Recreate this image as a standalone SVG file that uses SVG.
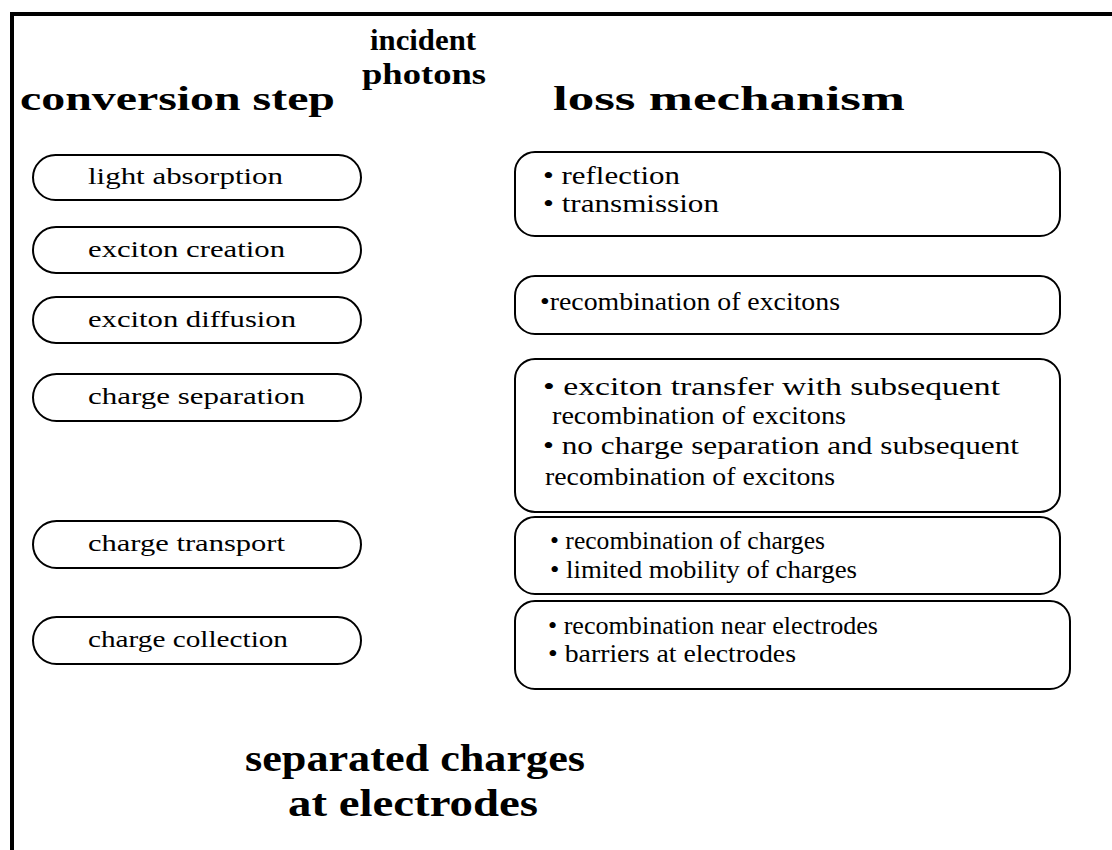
<svg xmlns="http://www.w3.org/2000/svg" width="1112" height="850" viewBox="0 0 1112 850">
<style>
.frame{fill:none;stroke:#000;stroke-width:4}
.pill,.box{fill:#fff;stroke:#000;stroke-width:2}
text{font-family:"Liberation Serif","Times New Roman",serif;fill:#000}
.h{font-weight:bold;font-size:33px}
.ip{font-weight:bold;font-size:30px}
.big{font-weight:bold;font-size:37px}
.t{font-size:23px}
.b{font-size:25px}
</style>
<rect width="1112" height="850" fill="#fff"/>
<path class="frame" d="M12 850 V14 H1112"/>
<g id="headers">
<text class="ip" x="370" y="50" textLength="106" lengthAdjust="spacingAndGlyphs">incident</text>
<text class="ip" x="362" y="84" textLength="124" lengthAdjust="spacingAndGlyphs">photons</text>
<text class="h" x="20" y="110" textLength="315" lengthAdjust="spacingAndGlyphs">conversion step</text>
<text class="h" x="553" y="110" textLength="352" lengthAdjust="spacingAndGlyphs">loss mechanism</text>
</g>
<g id="step1"><rect class="pill" x="33" y="155" width="328" height="45" rx="22.5"/><text class="t" x="88" y="184" textLength="195" lengthAdjust="spacingAndGlyphs">light absorption</text></g>
<g id="step2"><rect class="pill" x="33" y="227" width="328" height="46" rx="23"/><text class="t" x="88" y="257" textLength="197" lengthAdjust="spacingAndGlyphs">exciton creation</text></g>
<g id="step3"><rect class="pill" x="33" y="297" width="328" height="46" rx="23"/><text class="t" x="88" y="327" textLength="208" lengthAdjust="spacingAndGlyphs">exciton diffusion</text></g>
<g id="step4"><rect class="pill" x="33" y="374" width="328" height="47" rx="23.5"/><text class="t" x="88" y="404" textLength="217" lengthAdjust="spacingAndGlyphs">charge separation</text></g>
<g id="step5"><rect class="pill" x="33" y="521" width="328" height="47" rx="23.5"/><text class="t" x="88" y="551" textLength="197" lengthAdjust="spacingAndGlyphs">charge transport</text></g>
<g id="step6"><rect class="pill" x="33" y="617" width="328" height="47" rx="23.5"/><text class="t" x="88" y="647" textLength="200" lengthAdjust="spacingAndGlyphs">charge collection</text></g>
<g id="loss1"><rect class="box" x="515" y="152" width="545" height="84" rx="20"/>
<text class="b" x="543" y="184" textLength="137" lengthAdjust="spacingAndGlyphs">• reflection</text>
<text class="b" x="543" y="212" textLength="176" lengthAdjust="spacingAndGlyphs">• transmission</text></g>
<g id="loss2"><rect class="box" x="515" y="276" width="545" height="58" rx="20"/>
<text class="b" x="540" y="310" textLength="300" lengthAdjust="spacingAndGlyphs">•recombination of excitons</text></g>
<g id="loss3"><rect class="box" x="515" y="359" width="545" height="153" rx="20"/>
<text class="b" x="543" y="395" textLength="457" lengthAdjust="spacingAndGlyphs">• exciton transfer with subsequent</text>
<text class="b" x="552" y="424" textLength="294" lengthAdjust="spacingAndGlyphs">recombination of excitons</text>
<text class="b" x="543" y="454" textLength="476" lengthAdjust="spacingAndGlyphs">• no charge separation and subsequent</text>
<text class="b" x="545" y="485" textLength="290" lengthAdjust="spacingAndGlyphs">recombination of excitons</text></g>
<g id="loss4"><rect class="box" x="515" y="517" width="545" height="77" rx="20"/>
<text class="b" x="550" y="549" textLength="275" lengthAdjust="spacingAndGlyphs">• recombination of charges</text>
<text class="b" x="550" y="578" textLength="307" lengthAdjust="spacingAndGlyphs">• limited mobility of charges</text></g>
<g id="loss5"><rect class="box" x="515" y="601" width="555" height="88" rx="20"/>
<text class="b" x="548" y="634" textLength="330" lengthAdjust="spacingAndGlyphs">• recombination near electrodes</text>
<text class="b" x="548" y="662" textLength="248" lengthAdjust="spacingAndGlyphs">• barriers at electrodes</text></g>
<g id="result">
<text class="big" x="245" y="771" textLength="340" lengthAdjust="spacingAndGlyphs">separated charges</text>
<text class="big" x="288" y="816" textLength="250" lengthAdjust="spacingAndGlyphs">at electrodes</text>
</g>
<g id="connectors"></g>
</svg>
